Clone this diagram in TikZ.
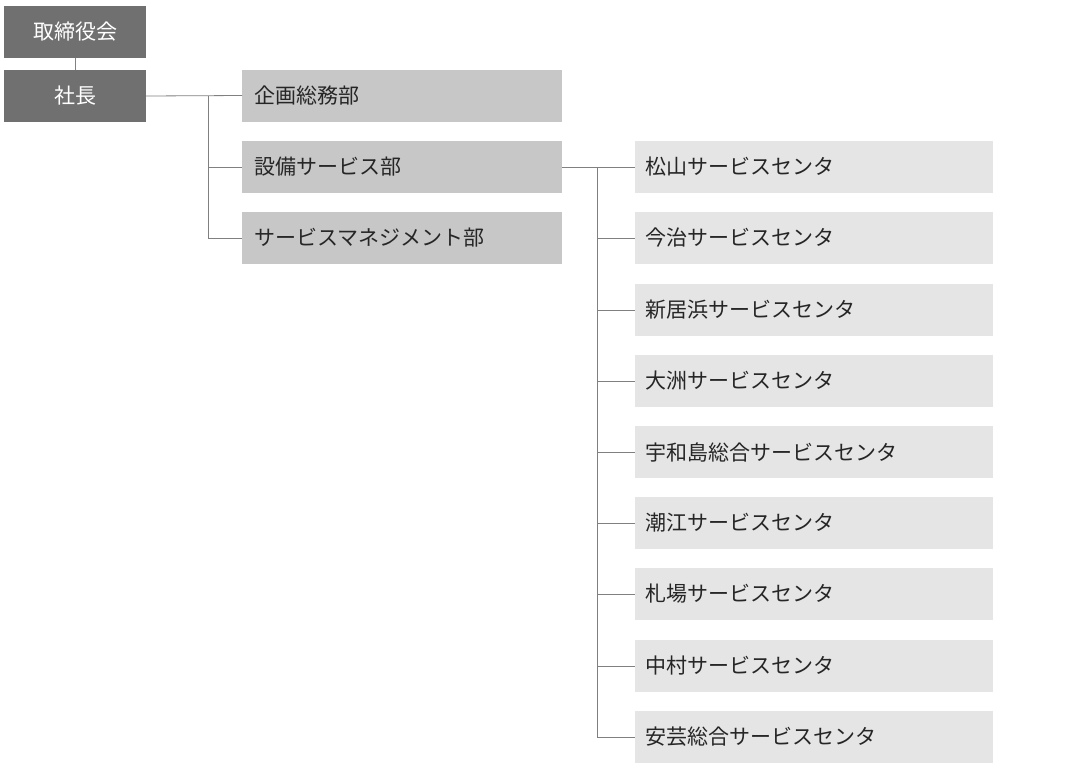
\documentclass[tikz,border=0pt]{standalone}
\usepackage{fontspec}
\setmainfont{Noto Sans CJK JP}
\begin{document}
\begin{tikzpicture}[x=1pt,y=-1pt,
  top/.style={fill=black!56,text=white,minimum width=142pt,minimum height=52pt,inner sep=0,font=\fontsize{21}{21}\selectfont},
  mid/.style={fill=black!22,text=black!85,minimum width=320pt,minimum height=52pt,anchor=west,inner sep=0,text width=296pt,align=left,font=\fontsize{21}{21}\selectfont},
  sub/.style={fill=black!10,text=black!85,minimum width=358pt,minimum height=52pt,anchor=west,inner sep=0,text width=338pt,align=left,font=\fontsize{21}{21}\selectfont},
  ln/.style={draw=black!50,line width=0.8pt}]
\useasboundingbox (0,0) rectangle (1076,777);
\node[top] (b) at (75,32) {取締役会};
\node[top] (p) at (75,96) {社長};
\draw[ln] (b) -- (p);
\node[mid] (m1) at (242,95.5) {企画総務部};
\node[mid] (m2) at (242,167) {設備サービス部};
\node[mid] (m3) at (242,238) {サービスマネジメント部};
\coordinate (j1) at (208,96);
\draw[ln] (p.east) -- (m1.west);
\draw[ln] (j1) |- (m3.west);
\draw[ln] (j1) |- (m2.west);
\foreach \n/\y/\t in {1/167/松山サービスセンタ,2/238/今治サービスセンタ,3/310/新居浜サービスセンタ,4/381/大洲サービスセンタ,5/452/宇和島総合サービスセンタ,6/523/潮江サービスセンタ,7/594/札場サービスセンタ,8/666/中村サービスセンタ,9/737/安芸総合サービスセンタ}{
  \node[sub] (s\n) at (635,\y) {\t};
}
\coordinate (j2) at (597,167);
\draw[ln] (m2.east) -- (s1.west);
\foreach \n in {2,...,9}{\draw[ln] (j2) |- (s\n.west);}
\end{tikzpicture}
\end{document}
